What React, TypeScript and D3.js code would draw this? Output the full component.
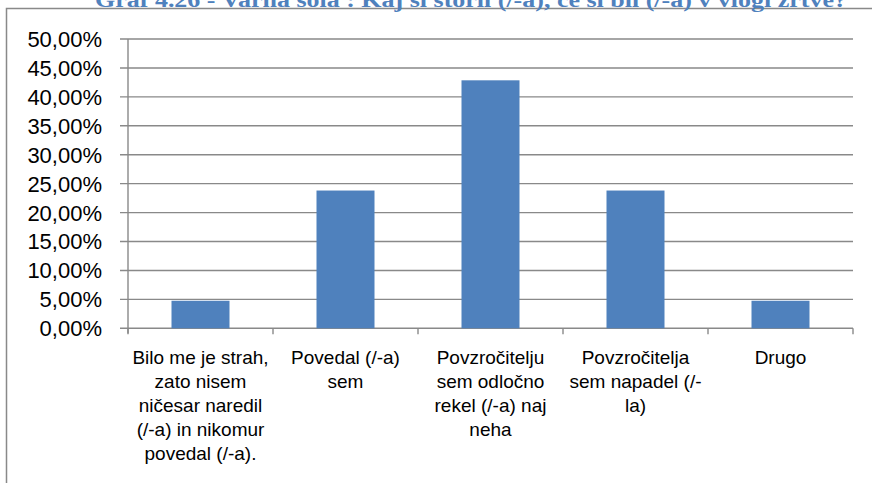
import * as d3 from 'd3'

const title = 'Graf 4.26 - Varna šola : Kaj si storil (/-a), če si bil (/-a) v vlogi žrtve?'

const categories = [
  'Bilo me je strah, zato nisem ničesar naredil (/-a) in nikomur povedal (/-a).',
  'Povedal (/-a) sem',
  'Povzročitelju sem odločno rekel (/-a) naj neha',
  'Povzročitelja sem napadel (/-la)',
  'Drugo',
]

// wrapped lines as they appear under the axis
const categoryLines = [
  ['Bilo me je strah,', 'zato nisem', 'ničesar naredil', '(/-a) in nikomur', 'povedal (/-a).'],
  ['Povedal (/-a)', 'sem'],
  ['Povzročitelju', 'sem odločno', 'rekel (/-a) naj', 'neha'],
  ['Povzročitelja', 'sem napadel (/-', 'la)'],
  ['Drugo'],
]

const values = [0.0476, 0.2381, 0.4286, 0.2381, 0.0476]

const yTicks = [0, 0.05, 0.1, 0.15, 0.2, 0.25, 0.3, 0.35, 0.4, 0.45, 0.5]

const W = 872
const H = 483
const plot = { left: 128, right: 853, top: 39, bottom: 328.3 }
const grid = '#898989'
const font = '"Liberation Sans", Arial, sans-serif'

export default function App() {
  const x = d3.scaleBand<string>()
    .domain(categories)
    .range([plot.left, plot.right])
    .paddingInner(0.6)
    .paddingOuter(0.3)

  const y = d3.scaleLinear().domain([0, 0.5]).range([plot.bottom, plot.top])

  const fmt = (v: number) => (v * 100).toFixed(2).replace('.', ',') + '%'
  const step = x.step()
  const bounds = d3.range(categories.length + 1).map(i => plot.left + i * step)

  return (
    <div style={{ position: 'fixed', left: 0, top: 0 }}>
      <svg width={W} height={H} style={{ display: 'block', background: '#fff' }}>
        {/* chart frame, runs off the right and bottom */}
        <rect x={6.5} y={8.5} width={W + 20} height={H + 20} fill="#fff" stroke={grid} strokeWidth={1.5} />

        <text
          x={95}
          y={7}
          textLength={752}
          lengthAdjust="spacingAndGlyphs"
          fill="#4F81BD"
          fontFamily='"Liberation Serif", "Times New Roman", serif'
          fontWeight="bold"
          fontSize={20}
        >
          {title}
        </text>

        {/* gridlines + y ticks */}
        {yTicks.map(t => (
          <g key={t}>
            <line x1={plot.left - 8} x2={plot.right} y1={y(t)} y2={y(t)} stroke={grid} strokeWidth={1.4} />
            <text
              x={102}
              y={y(t)}
              dy="0.36em"
              textAnchor="end"
              fontFamily={font}
              fontSize={22}
              fill="#000"
            >
              {fmt(t)}
            </text>
          </g>
        ))}

        {/* y axis */}
        <line x1={plot.left} x2={plot.left} y1={plot.top} y2={plot.bottom + 5} stroke={grid} strokeWidth={1.4} />

        {/* x axis tick marks */}
        {bounds.map((b, i) => (
          <line key={i} x1={b} x2={b} y1={plot.bottom} y2={plot.bottom + 6} stroke={grid} strokeWidth={1.4} />
        ))}

        {/* bars */}
        {categories.map((c, i) => (
          <rect
            key={c}
            x={x(c)}
            y={y(values[i])}
            width={x.bandwidth()}
            height={plot.bottom - y(values[i])}
            fill="#4F81BD"
          />
        ))}

        {/* category labels */}
        {categories.map((c, i) => (
          <text
            key={c}
            x={(x(c) || 0) + x.bandwidth() / 2}
            y={364}
            textAnchor="middle"
            fontFamily={font}
            fontSize={19}
            fill="#000"
          >
            {categoryLines[i].map((ln, j) => (
              <tspan key={j} x={(x(c) || 0) + x.bandwidth() / 2} dy={j === 0 ? 0 : 24}>
                {ln}
              </tspan>
            ))}
          </text>
        ))}
      </svg>
    </div>
  )
}
